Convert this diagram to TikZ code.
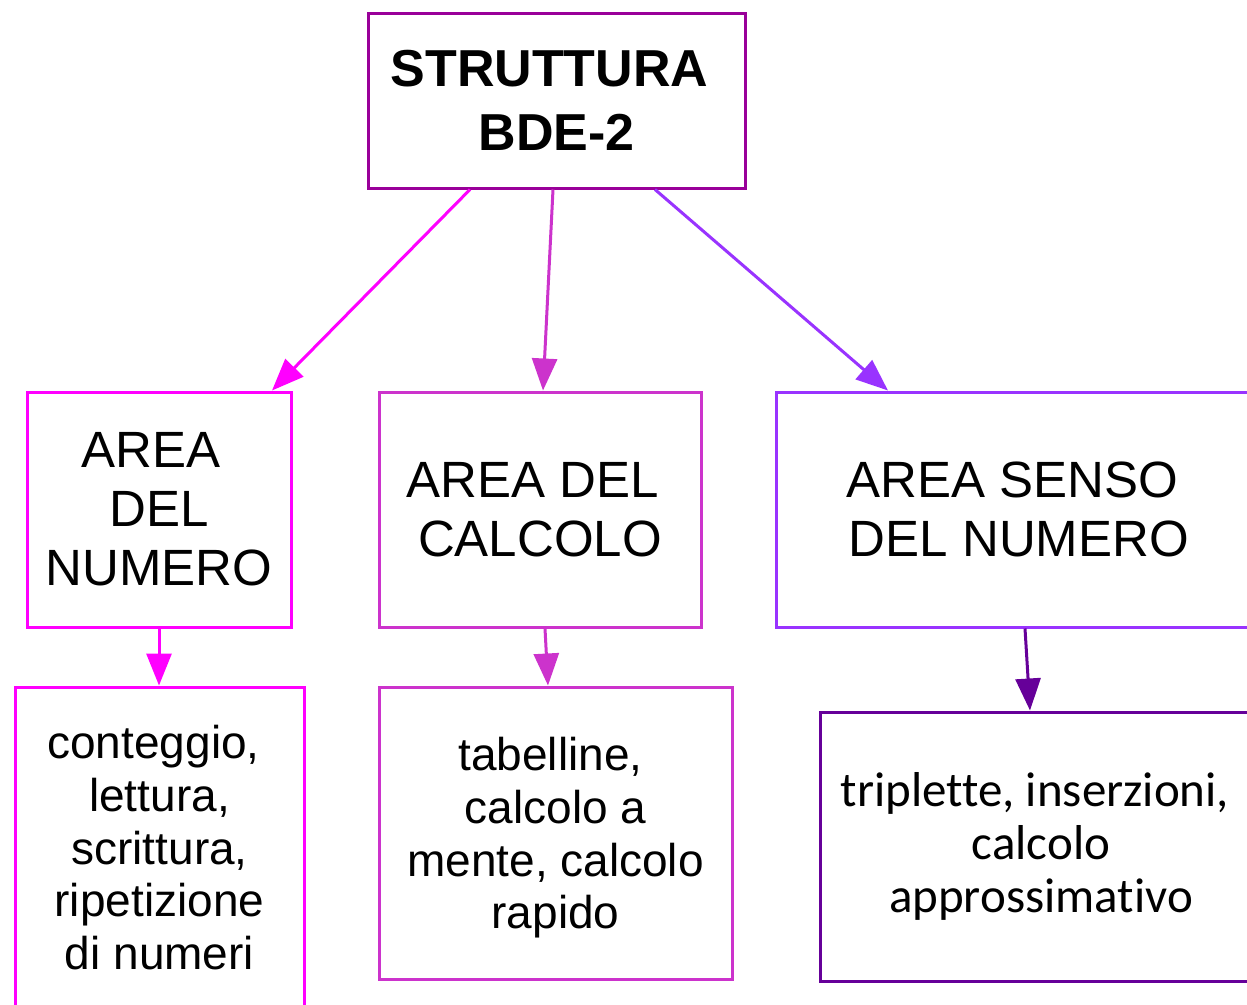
\documentclass[tikz,border=0pt]{standalone}
\usepackage{fontspec}
\setmainfont{Liberation Sans}
\newfontfamily\calib[Ligatures=NoCommon]{Carlito}
\usetikzlibrary{arrows.meta}
\definecolor{cTop}{RGB}{153,0,153}
\definecolor{cMag}{RGB}{255,0,255}
\definecolor{cMid}{RGB}{204,51,204}
\definecolor{cVio}{RGB}{153,51,255}
\definecolor{cDeep}{RGB}{102,0,153}
\newcommand\tsp[1]{\hspace*{#1pt}}
\tikzset{
  box/.style={draw, line width=3pt, fill=white, inner sep=0pt, align=center, text=black},
  area/.style={box, font=\fontsize{51}{59}\selectfont},
  sub/.style={box, font=\fontsize{46}{52.7}\selectfont},
  conn/.style={line width=3pt, -{Triangle[length=32pt,width=25pt]}}
}
\begin{document}
\begin{tikzpicture}[x=1pt,y=-1pt]
\path[use as bounding box] (0,0) rectangle (1247,1004);
\clip (0,0) rectangle (1247,1004);
\fill[white] (0,0) rectangle (1247,1004);
\node[box, draw=cTop, minimum width=377pt, minimum height=175pt,
      font=\fontsize{52}{64}\selectfont\bfseries] (top) at (556.5,100.5) {STRUTTURA\tsp{14}\\BDE-2};
\node[area, draw=cMag, minimum width=264pt, minimum height=235pt] (n1) at (159,509.5) {AREA\tsp{16}\\DEL\tsp{12}\\NUMERO};
\node[area, draw=cMid, minimum width=322pt, minimum height=235pt] (n2) at (540,509.5) {AREA DEL\tsp{14}\\CALCOLO};
\node[area, draw=cVio, minimum width=486pt, minimum height=235pt] (n3) at (1019,509.5) {AREA SENSO\tsp{14}\\DEL NUMERO};
\node[sub, draw=cMag, minimum width=289pt, minimum height=333pt] (b1) at (159.5,853.5) {conteggio,\tsp{12}\\lettura,\tsp{16}\\scrittura,\tsp{12}\\ripetizione\tsp{12}\\di numeri\rule[-12pt]{0pt}{0pt}};
\node[sub, draw=cMid, minimum width=353pt, minimum height=292pt] (b2) at (555.5,833) {\rule{0pt}{43pt}tabelline,\tsp{10}\\calcolo a\tsp{14}\\mente, calcolo\tsp{10}\\rapido};
\node[sub, draw=cDeep, minimum width=442pt, minimum height=269pt, font=\calib\fontsize{49}{52.7}\selectfont] (b3) at (1041,846.5) {triplette, inserzioni,\tsp{12}\\calcolo\tsp{14}\\approssimativo};
\draw[conn, cMag] ([xshift=-86.5pt]top.south) -- ([xshift=113pt]n1.north);
\draw[conn, cMid] ([xshift=-3.5pt]top.south) -- ([xshift=3pt]n2.north);
\draw[conn, cVio] ([xshift=98.5pt]top.south) -- ([xshift=-131pt]n3.north);
\draw[conn, cMag] (n1.south) -- ([xshift=-0.5pt]b1.north);
\draw[conn, cMid] ([xshift=5pt]n2.south) -- ([xshift=-7.5pt]b2.north);
\draw[conn, cDeep] ([xshift=6pt]n3.south) -- ([xshift=-11pt]b3.north);
\end{tikzpicture}
\end{document}
